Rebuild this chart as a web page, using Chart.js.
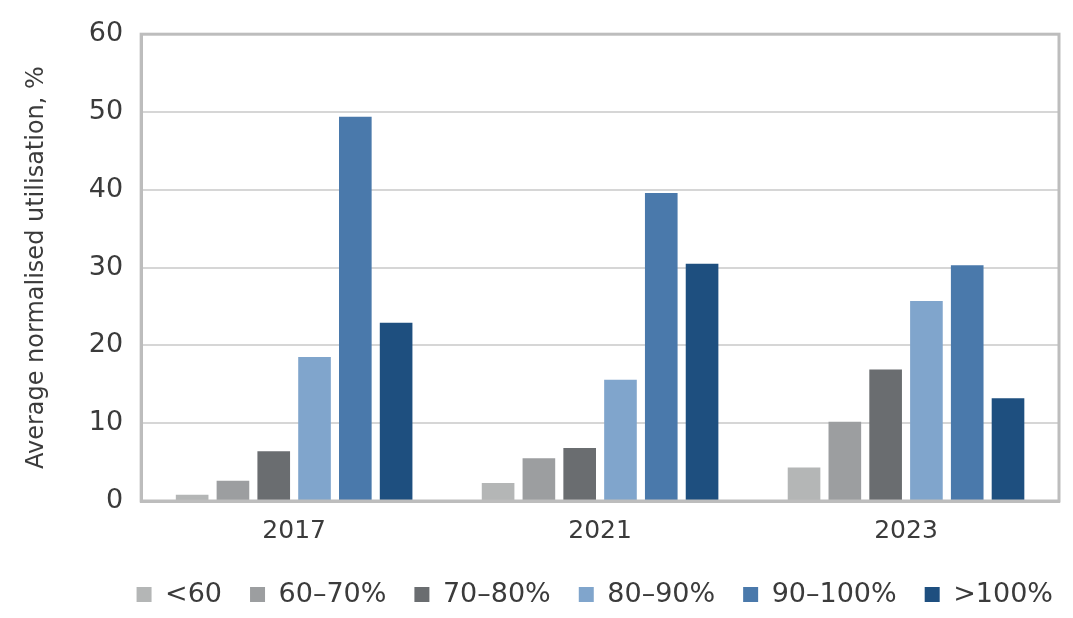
<!DOCTYPE html>
<html>
<head>
<meta charset="utf-8">
<script src="https://cdn.jsdelivr.net/npm/chart.js@4/dist/chart.umd.min.js"></script>
<style>
  html, body { margin: 0; padding: 0; background: #fff; }
  #wrap { width: 1073px; height: 618px; }
</style>
</head>
<body>
<div id="wrap"><canvas id="myChart"></canvas></div>
<script>
// years on x axis
var years = ['2017', '2021', '2023']
var bandLabels = ['<60', '60\u201370%', '70\u201380%', '80\u201390%', '90\u2013100%', '>100%']
var bandColors = ['#b4b6b6', '#9c9ea0', '#6a6d70', '#80a5cc', '#4a79ab', '#1e4f7f']

// one array per utilisation band
var below60 = [0.8, 2.3, 4.3]
var from60to70 = [2.6, 5.5, 10.2]
var from70to80 = [6.4, 6.8, 16.9]
var from80to90 = [18.5, 15.6, 25.7]
var from90to100 = [49.4, 39.6, 30.3]
var over100 = [22.9, 30.5, 13.2]

var yTicks = [0, 10, 20, 30, 40, 50, 60]

var seriesValues = [below60, from60to70, from70to80, from80to90, from90to100, over100]
var datasets = []
for (i = 0; i < seriesValues.length; i++) {
	datasets.push({
		label: bandLabels[i],
		data: seriesValues[i],
		backgroundColor: bandColors[i],
		borderWidth: 0,
		categoryPercentage: 0.8,
		barPercentage: 0.8
	})
}

var fontFamily = "'DejaVu Sans', sans-serif"
var textColor = '#3b3b3b'

// draws the grey frame round the plot area
var frame = {
	id: 'frame',
	afterDraw: function(chart) {
		var a = chart.chartArea
		var c = chart.ctx
		c.save()
		c.strokeStyle = '#bdbdbd'
		c.lineWidth = 3
		c.strokeRect(a.left, a.top, a.right - a.left, a.bottom - a.top)
		c.restore()
	}
}

// legend sits a bit right of centre in the original
var legendShift = {
	id: 'legendShift',
	afterLayout: function(chart) {
		if (chart.legend) {
			chart.legend.left += 22
			chart.legend.right += 22
		}
	}
}

var ctx = document.getElementById('myChart')
window.myChart = new Chart(ctx, {
	type: 'bar',
	data: {
		labels: years,
		datasets: datasets
	},
	plugins: [frame, legendShift],
	options: {
		responsive: true,
		maintainAspectRatio: false,
		animation: false,
		layout: { padding: { left: 18, right: 14, top: 12, bottom: 0 } },
		plugins: {
			legend: {
				position: 'bottom',
				align: 'end',
				labels: {
					color: textColor,
					font: { family: fontFamily, size: 27 },
					boxWidth: 15,
					boxHeight: 15,
					padding: 28
				}
			},
			tooltip: { enabled: false }
		},
		scales: {
			x: {
				grid: { display: false },
				border: { color: '#bdbdbd', width: 3 },
				ticks: {
					color: textColor,
					font: { family: fontFamily, size: 25 },
					padding: 7
				}
			},
			y: {
				min: 0,
				max: 60,
				afterBuildTicks: function(axis) {
					axis.ticks = yTicks.map(function(v) { return { value: v } })
				},
				grid: { color: '#d6d6d6', lineWidth: 2, drawTicks: false },
				border: { color: '#bdbdbd', width: 3 },
				ticks: {
					color: textColor,
					font: { family: fontFamily, size: 27 },
					padding: 18
				},
				title: {
					display: true,
					text: 'Average normalised utilisation, %',
					color: textColor,
					font: { family: fontFamily, size: 24 },
					padding: { bottom: 20 }
				}
			}
		}
	}
})
</script>
</body>
</html>
